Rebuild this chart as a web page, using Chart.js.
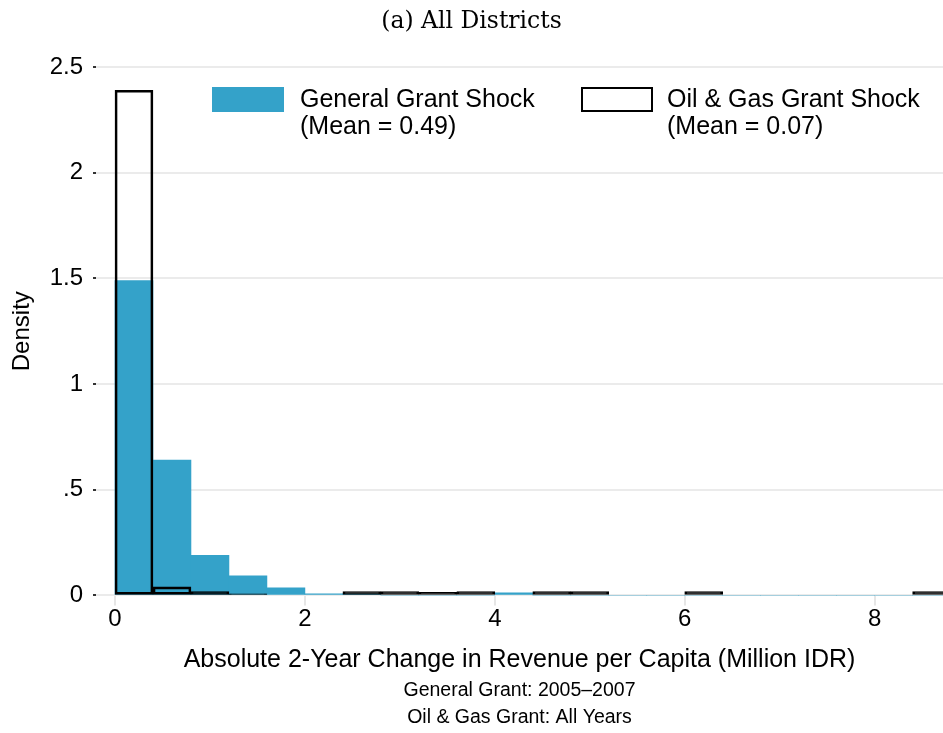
<!DOCTYPE html>
<html>
<head>
<meta charset="utf-8">
<title>All Districts</title>
<script src="https://cdn.jsdelivr.net/npm/chart.js@4.4.1/dist/chart.umd.min.js"></script>
<style>
    html, body { margin: 0; padding: 0; background: #ffffff; }
    #wrap { width: 943px; height: 733px; position: relative; }
</style>
</head>
<body>
<div id="wrap"><canvas id="histChart"></canvas></div>
<script>
// Histogram bins of width 0.4 (centres)
const binCenters = [0.2, 0.6, 1.0, 1.4, 1.8, 2.2, 2.6, 3.0, 3.4, 3.8, 4.2,
                    4.6, 5.0, 5.4, 5.8, 6.2, 6.6, 7.0, 7.4, 7.8, 8.2, 8.6];
const generalGrant = [1.49, 0.64, 0.19, 0.093, 0.036, 0.008, 0.008, 0, 0, 0, 0.012,
                      0, 0, 0, 0, 0, 0, 0, 0, 0, 0, 0];
const oilGasGrant = [2.39, 0.04, 0.018, 0.008, 0, 0, 0.018, 0.018, 0.014, 0.018, 0,
                     0.018, 0.018, 0, 0, 0.018, 0, 0, 0, 0, 0, 0.018];
const xTicks = [0, 2, 4, 6, 8];
const yTicks = [0, 0.5, 1, 1.5, 2, 2.5];
const yTickLabels = ['0', '.5', '1', '1.5', '2', '2.5'];
const legendLines = [
    ['General Grant Shock', '(Mean = 0.49)'],
    ['Oil & Gas Grant Shock', '(Mean = 0.07)']
];

const blue = '#34a2c9';
const sans = "'Liberation Sans', Arial, sans-serif";

// Two-line legend drawn on top of the plot
const twoLineLegend = {
    id: 'twoLineLegend',
    afterDraw(chart) {
        const ctx = chart.ctx;
        const { left, top } = chart.chartArea;
        const items = [
            { boxX: left + 116, textX: left + 204, ds: chart.data.datasets[0] },
            { boxX: left + 485, textX: left + 571, ds: chart.data.datasets[1] }
        ];
        ctx.save();
        ctx.font = '25px ' + sans;
        ctx.textBaseline = 'middle';
        items.forEach((it, i) => {
            const bw = 72, bh = 25, by = top + 20;
            if (it.ds.borderWidth) {
                ctx.fillStyle = '#fff';
                ctx.fillRect(it.boxX, by, bw, bh);
                ctx.strokeStyle = it.ds.borderColor;
                ctx.lineWidth = 2;
                ctx.strokeRect(it.boxX + 1, by + 1, bw - 2, bh - 2);
            } else {
                ctx.fillStyle = it.ds.backgroundColor;
                ctx.fillRect(it.boxX, by, bw, bh);
            }
            ctx.fillStyle = '#000';
            legendLines[i].forEach((line, j) => {
                ctx.fillText(line, it.textX, top + 33 + j * 27);
            });
        });
        ctx.restore();
    }
};

const ctx = document.getElementById('histChart');

new Chart(ctx, {
    type: 'bar',
    data: {
        datasets: [{
            label: legendLines[0][0],
            data: binCenters.map((c, i) => ({ x: c, y: generalGrant[i] })),
            backgroundColor: blue,
            borderWidth: 0,
            order: 1
        }, {
            label: legendLines[1][0],
            data: binCenters.map((c, i) => ({ x: c, y: oilGasGrant[i] })),
            // very short bars are all outline, so fill them solid
            backgroundColor: (c) => (c.raw && c.raw.y < 0.025) ? '#000' : 'rgba(0,0,0,0)',
            borderColor: '#000',
            borderWidth: 2,
            borderSkipped: false,
            order: 0
        }]
    },
    options: {
        responsive: true,
        maintainAspectRatio: false,
        animation: false,
        grouped: false,
        barPercentage: 1,
        categoryPercentage: 1,
        layout: { padding: 0 },
        plugins: {
            legend: { display: false },
            tooltip: { enabled: false },
            title: {
                display: true,
                text: '(a) All Districts',
                color: '#000',
                font: { family: "'DejaVu Serif', serif", size: 23.5, weight: 'normal' },
                padding: { top: 8, bottom: 30.8 }
            },
            subtitle: {
                display: true,
                position: 'bottom',
                fullSize: false,
                text: ['General Grant: 2005\u20132007', 'Oil & Gas Grant: All Years'],
                color: '#000',
                font: { family: sans, size: 19.5, lineHeight: 1.4 },
                padding: { top: 0, bottom: 1.5 }
            }
        },
        scales: {
            x: {
                type: 'linear',
                offset: false,
                min: -0.2,
                max: 8.72,
                afterFit: (scale) => { scale.height = 81.5; },
                afterBuildTicks: (scale) => { scale.ticks = xTicks.map(v => ({ value: v })); },
                border: { display: false },
                grid: {
                    offset: false,
                    drawOnChartArea: false,
                    drawTicks: true,
                    tickLength: 10,
                    tickColor: '#e6e6e6',
                    lineWidth: 2
                },
                ticks: {
                    color: '#000',
                    padding: 0,
                    font: { family: sans, size: 24 },
                    callback: (v) => String(v)
                },
                title: {
                    display: true,
                    text: 'Absolute 2-Year Change in Revenue per Capita (Million IDR)',
                    color: '#000',
                    font: { family: sans, size: 25 },
                    padding: { top: 0, bottom: 2 }
                }
            },
            y: {
                min: 0,
                max: 2.5,
                afterFit: (scale) => { scale.width = 96; },
                afterBuildTicks: (scale) => { scale.ticks = yTicks.map(v => ({ value: v })); },
                border: { display: false },
                grid: {
                    color: '#ebebeb',
                    lineWidth: 2,
                    drawTicks: true,
                    tickLength: 3,
                    tickColor: '#333'
                },
                ticks: {
                    color: '#000',
                    padding: 10,
                    font: { family: sans, size: 24 },
                    callback: (v) => yTickLabels[yTicks.indexOf(v)]
                },
                title: {
                    display: true,
                    text: 'Density',
                    color: '#000',
                    font: { family: sans, size: 24 },
                    padding: { top: 8, bottom: 0 }
                }
            }
        }
    },
    plugins: [twoLineLegend]
});
</script>
</body>
</html>
